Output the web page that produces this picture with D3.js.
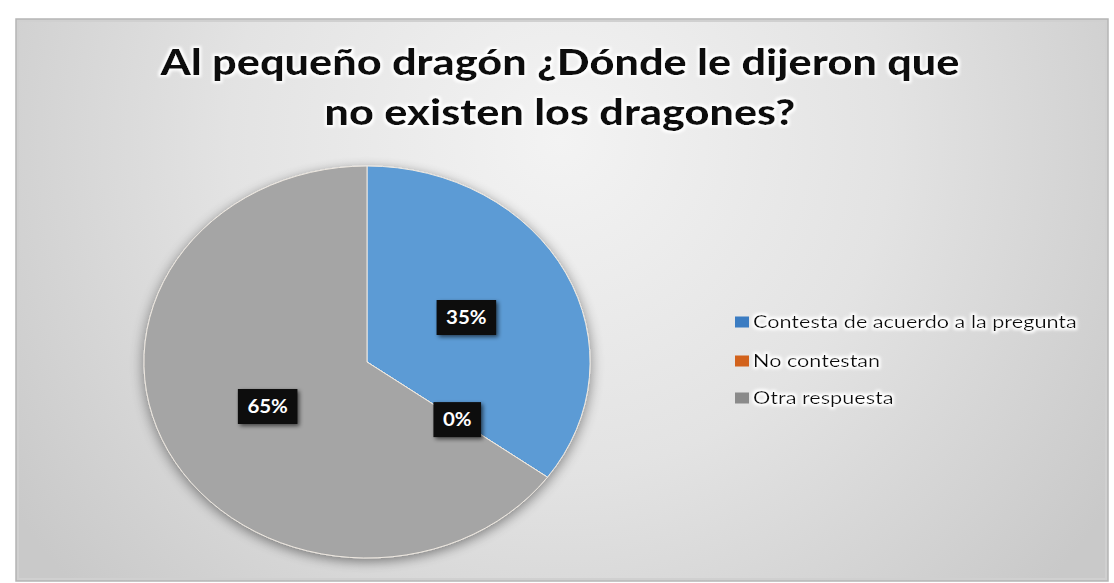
<!DOCTYPE html>
<html>
<head>
<meta charset="utf-8">
<script src="https://cdn.jsdelivr.net/npm/d3@7"></script>
<style>
html,body{margin:0;padding:0;background:#fff;}
svg{display:block;}
</style>
</head>
<body>
<svg id="chart" width="1114" height="583"></svg>
<script>
// ---- data ----
const titleLines = ["Al pequeño dragón ¿Dónde le dijeron que", "no existen los dragones?"];
const categories = ["Contesta de acuerdo a la pregunta", "No contestan", "Otra respuesta"];
const values = [35, 0, 65];
const labels = ["35%", "0%", "65%"];
const sliceColors = ["#5b9bd5", "#ed7d31", "#a5a5a5"];
const legendColors = ["#3b7cc2", "#d2621c", "#8a8a8a"];

const W = 1114, H = 583;
const svg = d3.select("#chart");
const defs = svg.append("defs");

// background gradient
const bg = defs.append("radialGradient").attr("id", "bg")
  .attr("gradientUnits", "userSpaceOnUse")
  .attr("cx", 560).attr("cy", 140).attr("r", 660);
bg.append("stop").attr("offset", "0").attr("stop-color", "#f3f3f3");
bg.append("stop").attr("offset", "0.5").attr("stop-color", "#e3e3e3");
bg.append("stop").attr("offset", "1").attr("stop-color", "#c9c9c9");

// pie shadow
const sh = defs.append("filter").attr("id", "pieShadow")
  .attr("x", "-20%").attr("y", "-20%").attr("width", "140%").attr("height", "140%");
sh.append("feGaussianBlur").attr("in", "SourceAlpha").attr("stdDeviation", 6).attr("result", "b");
sh.append("feOffset").attr("in", "b").attr("dx", 0).attr("dy", 3).attr("result", "o");
sh.append("feComponentTransfer").attr("in", "o").attr("result", "o2")
  .append("feFuncA").attr("type", "linear").attr("slope", 0.45);
const m = sh.append("feMerge");
m.append("feMergeNode").attr("in", "o2");
m.append("feMergeNode").attr("in", "SourceGraphic");

// label box shadow
const ls = defs.append("filter").attr("id", "boxShadow")
  .attr("x", "-30%").attr("y", "-30%").attr("width", "160%").attr("height", "160%");
ls.append("feGaussianBlur").attr("in", "SourceAlpha").attr("stdDeviation", 2).attr("result", "b");
ls.append("feOffset").attr("in", "b").attr("dx", 2).attr("dy", 2).attr("result", "o");
ls.append("feComponentTransfer").attr("in", "o").attr("result", "o2")
  .append("feFuncA").attr("type", "linear").attr("slope", 0.6);
const m2 = ls.append("feMerge");
m2.append("feMergeNode").attr("in", "o2");
m2.append("feMergeNode").attr("in", "SourceGraphic");

// white glow for text
const glow = defs.append("filter").attr("id", "glow")
  .attr("x", "-10%").attr("y", "-30%").attr("width", "120%").attr("height", "160%");
glow.append("feMorphology").attr("in", "SourceAlpha").attr("operator", "dilate").attr("radius", 2).attr("result", "d");
glow.append("feGaussianBlur").attr("in", "d").attr("stdDeviation", 1.5).attr("result", "db");
glow.append("feFlood").attr("flood-color", "#ffffff").attr("result", "w");
glow.append("feComposite").attr("in", "w").attr("in2", "db").attr("operator", "in").attr("result", "wg");
const m3 = glow.append("feMerge");
m3.append("feMergeNode").attr("in", "wg");
m3.append("feMergeNode").attr("in", "SourceGraphic");

// frame
const fx0 = 16, fy0 = 19, fx1 = 1108, fy1 = 581;
svg.append("rect").attr("x", fx0).attr("y", fy0).attr("width", fx1 - fx0).attr("height", fy1 - fy0)
  .attr("fill", "url(#bg)").attr("stroke", "#b5b5b5").attr("stroke-width", 1.5);
svg.append("rect").attr("x", fx0 + 2).attr("y", fy0 + 2).attr("width", fx1 - fx0 - 4).attr("height", fy1 - fy0 - 4)
  .attr("fill", "none").attr("stroke", "#d0d0d0").attr("stroke-width", 2);

const SX = 1.138; // horizontal stretch of the picture

// title
const titleG = svg.append("g").attr("filter", "url(#glow)");
const titleBase = [75, 125];
const titleWidths = [799, 471];
const titleCenter = 560;
titleLines.forEach((t, i) => {
  const txt = titleG.append("text")
    .attr("font-family", "Lato, 'Open Sans', sans-serif")
    .attr("font-weight", 900)
    .attr("font-size", 36)
    .attr("fill", "#111")
    .attr("text-anchor", "middle")
    .text(t);
  const w = txt.node().getComputedTextLength();
  const s = titleWidths[i] / w;
  txt.attr("transform", `translate(${titleCenter},${titleBase[i]}) scale(${s},1)`);
});

// pie
const cx = 367, cy = 362, R = 196;
const pie = d3.pie().sort(null).value(d => d)(values);
const arc = d3.arc().innerRadius(0).outerRadius(R);
const labelArc = d3.arc().innerRadius(R * 0.5).outerRadius(R * 0.5);

const pieG = svg.append("g").attr("filter", "url(#pieShadow)")
  .attr("transform", `translate(${cx},${cy}) scale(${SX},1)`);
pieG.selectAll("path").data(pie).join("path")
  .attr("d", arc)
  .attr("fill", (d, i) => sliceColors[i])
  .attr("stroke", "#eee8e0")
  .attr("stroke-width", 1)
  .attr("vector-effect", "non-scaling-stroke");

// data labels
const lblG = svg.append("g");
pie.forEach((d, i) => {
  const c = labelArc.centroid(d);
  const x = cx + c[0] * SX, y = cy + c[1];
  const g = lblG.append("g").attr("transform", `translate(${x},${y})`);
  const rect = g.append("rect").attr("fill", "#111").attr("filter", "url(#boxShadow)");
  const t = g.append("text")
    .attr("font-family", "Lato, 'Open Sans', sans-serif")
    .attr("font-weight", 700)
    .attr("font-size", 18)
    .attr("fill", "#fff")
    .attr("text-anchor", "middle")
    .attr("dy", "0.36em")
    .attr("transform", `scale(${SX},1)`)
    .text(labels[i]);
  const tw = t.node().getComputedTextLength() * SX;
  const bw = tw + 19, bh = 35;
  rect.attr("x", -bw / 2).attr("y", -bh / 2).attr("width", bw).attr("height", bh);
});

// legend
const legG = svg.append("g");
const legRows = [322, 361, 398];
const legTextX = 753;
const legTargetW = 324;
let legScale = null;
categories.forEach((c, i) => {
  legG.append("rect")
    .attr("x", 735).attr("y", legRows[i] - 5.5)
    .attr("width", 14).attr("height", 11)
    .attr("fill", legendColors[i]);
  const t = legG.append("text")
    .attr("font-family", "Lato, 'Open Sans', sans-serif")
    .attr("font-size", 18)
    .attr("fill", "#111")
    .attr("dy", "0.35em")
    .attr("filter", "url(#glow)")
    .text(c);
  if (legScale === null) legScale = legTargetW / t.node().getComputedTextLength();
  t.attr("transform", `translate(${legTextX},${legRows[i]}) scale(${legScale},1)`);
});
</script>
</body>
</html>
